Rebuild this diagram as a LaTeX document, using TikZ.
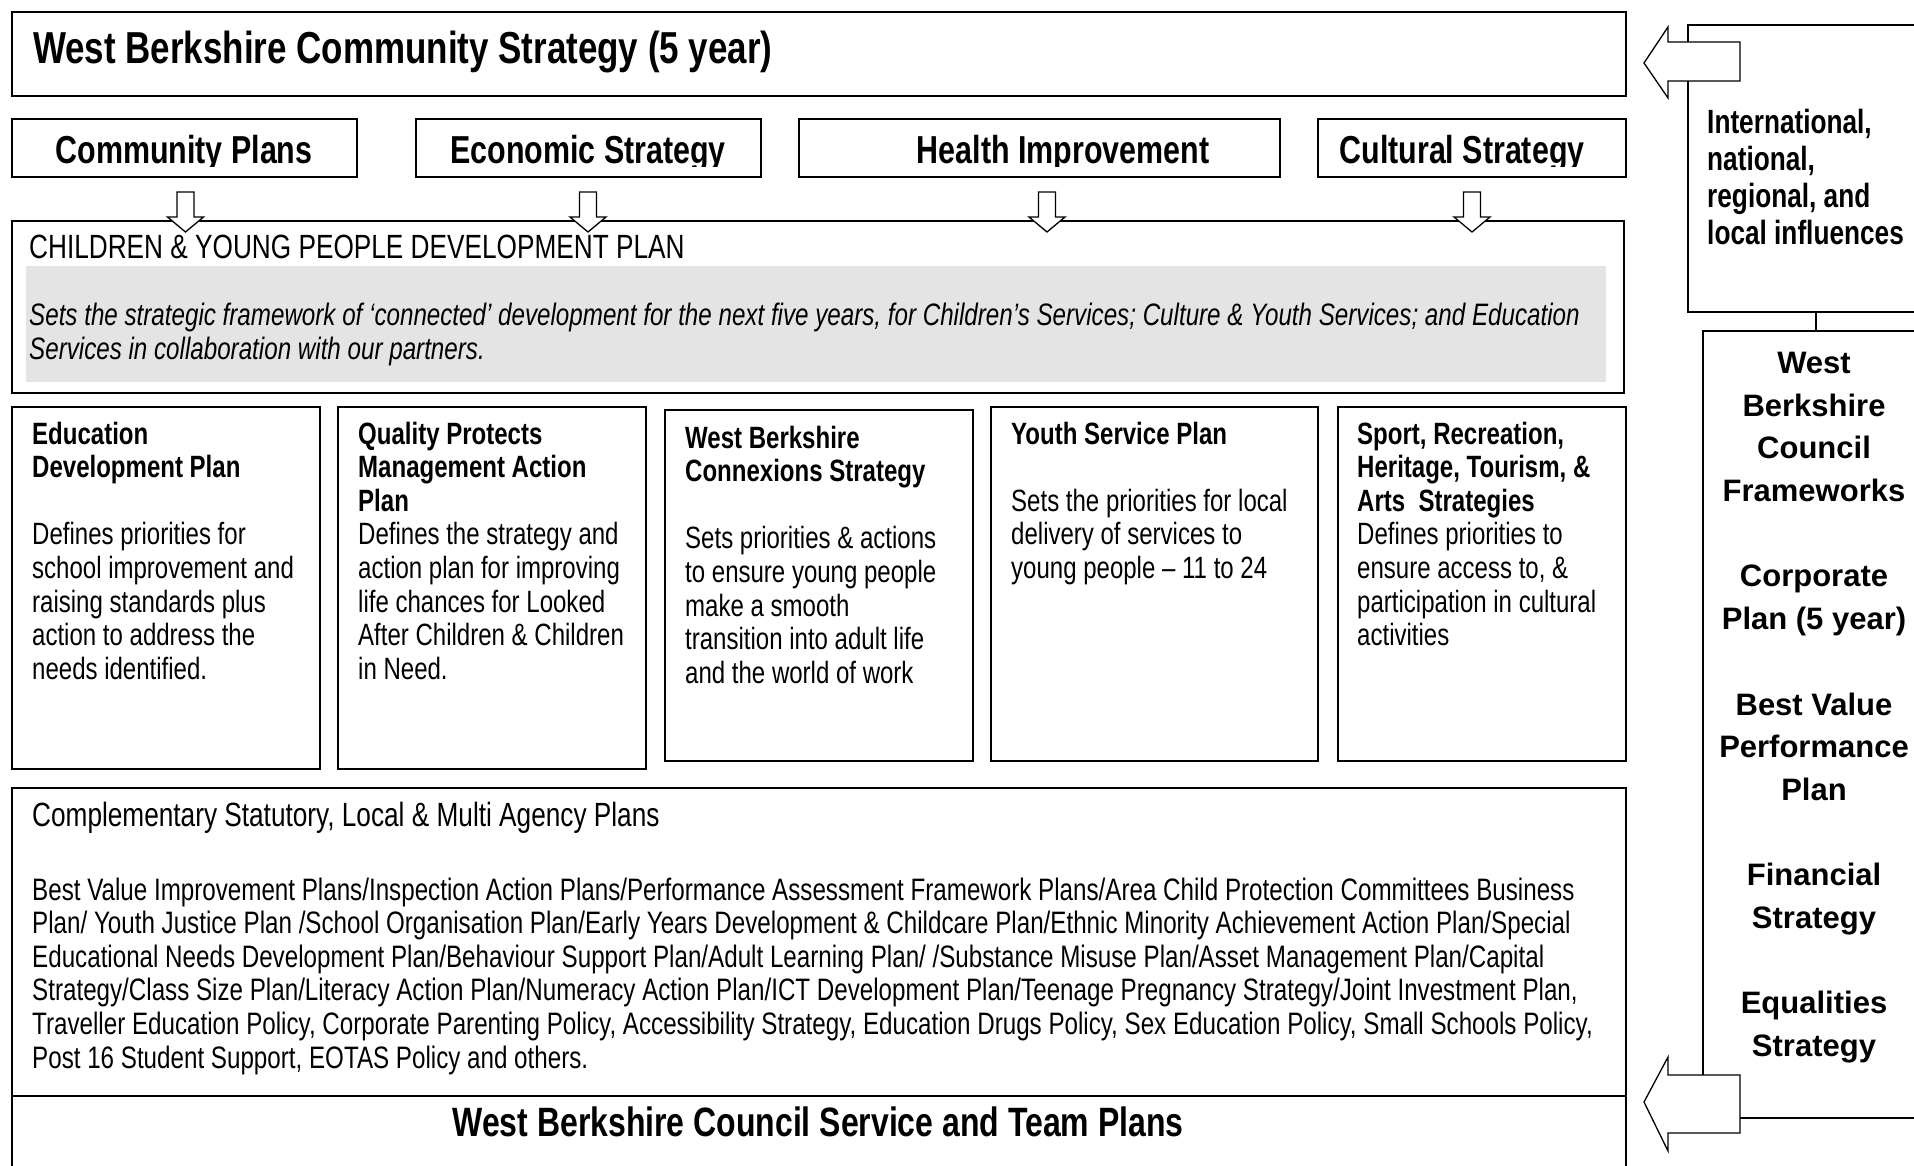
\documentclass[tikz,border=0pt]{standalone}
\usepackage{fontspec}
\setmainfont{Liberation Sans}
\newfontfamily\nar[FakeStretch=0.78]{Liberation Sans}
\usetikzlibrary{calc}
% stacked lines with a fixed baseline grid; the node baseline is the first line
\newcommand\lrows[1]{\vtop{\halign{##\hfil\cr#1\crcr}}}
\newcommand\crows[1]{\vtop{\halign{\hfil##\hfil\cr#1\crcr}}}
\definecolor{panelgrey}{HTML}{E4E4E4}
\begin{document}
\begin{tikzpicture}[x=1pt,y=-1pt,
  box/.style={draw=black, line width=1.6pt, fill=white, inner sep=0pt, anchor=north west},
  arrowshape/.style={draw=black, line width=1.3pt, fill=white, line join=miter},
  txt/.style={inner sep=0pt, anchor=base west},
  body/.style={txt, font=\nar\fontsize{30.8}{33.6}\selectfont},
  toptitle/.style={inner sep=0pt, anchor=base, font=\nar\bfseries\fontsize{39}{42}\selectfont}]
\useasboundingbox (0,0) rectangle (1914,1166);
\clip (0,0) rectangle (1914,1166);
\fill[white] (0,0) rectangle (1914,1166);

% main frame of plans
\node[box, minimum width=1614pt, minimum height=84pt] (title) at (11,11) {};
\node[txt, font=\nar\bfseries\fontsize{44.8}{48}\selectfont] (titletext) at (33,63.5)
  {West Berkshire Community Strategy (5 year)};

\node[box, minimum width=345pt, minimum height=58pt] (comm) at (11,118) {};
\node[box, minimum width=345pt, minimum height=58pt] (econ) at (415,118) {};
\node[box, minimum width=481pt, minimum height=58pt] (health) at (798,118) {};
\node[box, minimum width=308pt, minimum height=58pt] (cult) at (1317,118) {};
\begin{scope}
  \clip (11,118) rectangle (356,166.5);
  \node[toptitle] (commtext) at (184,163.5) {Community Plans};
\end{scope}
\begin{scope}
  \clip (415,118) rectangle (760,166.5);
  \node[toptitle] (econtext) at (588,163.5) {Economic Strategy};
\end{scope}
\begin{scope}
  \clip (798,118) rectangle (1279,166.5);
  \node[toptitle] (healthtext) at (1063,163.5) {Health Improvement};
\end{scope}
\begin{scope}
  \clip (1317,118) rectangle (1625,166.5);
  \node[toptitle] (culttext) at (1462,163.5) {Cultural Strategy};
\end{scope}

% children & young people development plan
\node[box, minimum width=1612pt, minimum height=172pt] (cyp) at (11,220) {};
\node[anchor=north west, fill=panelgrey, inner sep=0pt, minimum width=1580pt, minimum height=116pt] (panel) at (26,266) {};
\node[txt, font=\nar\fontsize{33.6}{36}\selectfont] (cyphead) at (29,259)
  {CHILDREN \& YOUNG PEOPLE DEVELOPMENT PLAN};
\node[txt, font=\nar\itshape\fontsize{31}{34}\selectfont] (cyptext) at (29,326)
  {\lrows{Sets the strategic framework of ‘connected’ development for the next five years, for Children’s Services; Culture \& Youth Services; and Education\cr
  Services in collaboration with our partners.}};

% block arrows from the four strategies
\foreach \ax in {185.5,588,1047,1472}{
  \draw[arrowshape, shift={(\ax,0)}] (-8.5,192) -- (8.5,192) -- (8.5,217) -- (18,217)
    -- (0,232) -- (-18,217) -- (-8.5,217) -- cycle;
}

% service plans
\node[box, minimum width=308pt, minimum height=362pt] (edu) at (11,406) {};
\node[box, minimum width=308pt, minimum height=362pt] (qual) at (337,406) {};
\node[box, minimum width=308pt, minimum height=351pt] (conx) at (664,409) {};
\node[box, minimum width=327pt, minimum height=354pt] (youth) at (990,406) {};
\node[box, minimum width=288pt, minimum height=354pt] (sport) at (1337,406) {};

\node[body] (edutext) at (32,444) {\lrows{\bfseries Education\cr \bfseries Development Plan\cr \cr
  Defines priorities for\cr school improvement and\cr raising standards plus\cr
  action to address the\cr needs identified.}};
\node[body] (qualtext) at (358,444) {\lrows{\bfseries Quality Protects\cr \bfseries Management Action\cr \bfseries Plan\cr
  Defines the strategy and\cr action plan for improving\cr life chances for Looked\cr
  After Children \& Children\cr in Need.}};
\node[body] (conxtext) at (685,448) {\lrows{\bfseries West Berkshire\cr \bfseries Connexions Strategy\cr \cr
  Sets priorities \& actions\cr to ensure young people\cr make a smooth\cr
  transition into adult life\cr and the world of work}};
\node[body] (youthtext) at (1011,444) {\lrows{\bfseries Youth Service Plan\cr \cr
  Sets the priorities for local\cr delivery of services to\cr young people – 11 to 24}};
\node[body] (sporttext) at (1357,444) {\lrows{\bfseries Sport, Recreation,\cr \bfseries Heritage, Tourism, \&\cr \bfseries Arts\ \ Strategies\cr
  Defines priorities to\cr ensure access to, \&\cr participation in cultural\cr activities}};

% complementary plans
\node[box, minimum width=1614pt, minimum height=308pt] (comp) at (11,787) {};
\node[txt, font=\nar\fontsize{33.6}{36}\selectfont] (comphead) at (32,826) {Complementary Statutory, Local \& Multi Agency Plans};
\node[txt, font=\nar\fontsize{31}{33.6}\selectfont] (comptext) at (32,900) {\lrows{%
  Best Value Improvement Plans/Inspection Action Plans/Performance Assessment Framework Plans/Area Child Protection Committees Business\cr
  Plan/ Youth Justice Plan /School Organisation Plan/Early Years Development \& Childcare Plan/Ethnic Minority Achievement Action Plan/Special\cr
  Educational Needs Development Plan/Behaviour Support Plan/Adult Learning Plan/ /Substance Misuse Plan/Asset Management Plan/Capital\cr
  Strategy/Class Size Plan/Literacy Action Plan/Numeracy Action Plan/ICT Development Plan/Teenage Pregnancy Strategy/Joint Investment Plan,\cr
  Traveller Education Policy, Corporate Parenting Policy, Accessibility Strategy, Education Drugs Policy, Sex Education Policy, Small Schools Policy,\cr
  Post 16 Student Support, EOTAS Policy and others.}};

% service and team plans
\node[box, minimum width=1614pt, minimum height=100pt] (team) at (11,1095) {};
\node[inner sep=0pt, anchor=base, font=\nar\bfseries\fontsize{41}{44}\selectfont] (teamtext) at (818,1136)
  {West Berkshire Council Service and Team Plans};

% influences and council frameworks
\node[box, minimum width=253pt, minimum height=287pt] (infl) at (1687,24) {};
\node[txt, font=\nar\bfseries\fontsize{33.6}{36.7}\selectfont] (infltext) at (1707,134)
  {\lrows{International,\cr national,\cr regional, and\cr local influences}};
\node[box, minimum width=238pt, minimum height=787pt] (fw) at (1702,330) {};
\coordinate (link) at (1816,0);
\draw[line width=1.6pt] (infl.south -| link) -- (fw.north -| link);
\node[inner sep=0pt, anchor=base, font=\bfseries\fontsize{31}{42.7}\selectfont] (fwtext) at (1814,373.5)
  {\crows{West\cr Berkshire\cr Council\cr Frameworks\cr \cr Corporate\cr Plan (5 year)\cr \cr
  Best Value\cr Performance\cr Plan\cr \cr Financial\cr Strategy\cr \cr Equalities\cr Strategy}};

% block arrows feeding the strategy and the team plans
\draw[arrowshape] (1644,63) -- (1668,27) -- (1668,42) -- (1740,42) -- (1740,81)
  -- (1668,81) -- (1668,98) -- cycle;
\draw[arrowshape] (1644,1102) -- (1668,1057) -- (1668,1075) -- (1740,1075) -- (1740,1133)
  -- (1668,1133) -- (1668,1151) -- cycle;
\end{tikzpicture}
\end{document}
